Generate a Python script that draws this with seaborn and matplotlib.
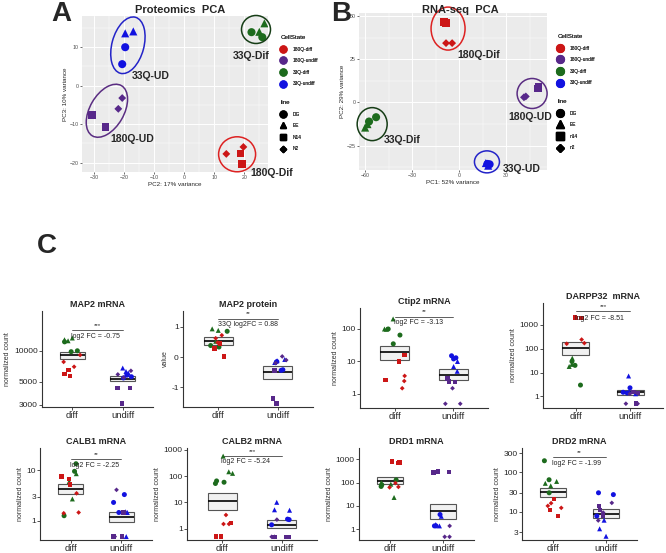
import matplotlib
matplotlib.use("Agg")
import matplotlib.pyplot as plt
import numpy as np
import pandas as pd
import seaborn as sns
from matplotlib.lines import Line2D
from matplotlib.patches import Ellipse
from matplotlib.ticker import AutoMinorLocator, NullLocator
from matplotlib.transforms import ScaledTranslation

sns.set_theme(style="white")
plt.rcParams["font.family"] = ["Liberation Sans", "DejaVu Sans"]
np.random.seed(7)  # only used by stripplot jitter

W, H = 666, 553

# ---- colours / categories --------------------------------------------------
STATES = ["180Q-diff", "180Q-undiff", "33Q-diff", "33Q-undiff"]
STATE_COLORS = ["#cc1616", "#57288a", "#1d6b1d", "#1212e0"]
PALETTE = dict(zip(STATES, STATE_COLORS))
LINE_MARKERS = ["o", "^", "s", "D"]

# ---- panel A: proteomics PCA ----------------------------------------------
pca_a_state = ["33Q-undiff"] * 4 + ["33Q-diff"] * 4 + ["180Q-undiff"] * 4 + ["180Q-diff"] * 4
pca_a_line = ["DG", "DG", "EE", "EE", "DG", "DG", "EE", "EE",
              "N14", "N14", "N2", "N2", "N14", "N14", "N2", "N2"]
pca_a_pc2 = [-19.7, -20.7, -19.7, -17.0, 22.4, 26.0, 26.7, 25.0,
             -30.7, -26.3, -20.7, -22.0, 18.7, 19.3, 19.7, 14.0]
pca_a_pc3 = [10.0, 5.6, 13.6, 14.1, 13.9, 12.6, 16.2, 14.0,
             -7.6, -10.7, -3.2, -6.0, -17.6, -20.3, -15.9, -17.7]
pca_a_lines = ["DG", "EE", "N14", "N2"]
pca_a_groups = ["33Q-Dif", "33Q-UD", "180Q-UD", "180Q-Dif"]
pca_a_group_x = [16.2, -17.4, -24.8, 21.9]
pca_a_group_y = [7.7, 2.5, -13.8, -22.6]
# ellipse: centre x, centre y, width/height (in), angle, colour
pca_a_ellipses = [(23.9, 14.6, 0.29, 0.28, 0, "#163d16"),
                  (-18.8, 10.5, 0.58, 0.32, 75, "#2323c8"),
                  (-25.8, -6.5, 0.58, 0.34, 60, "#5a2d82"),
                  (17.6, -17.8, 0.37, 0.35, 0, "#dd2222")]

# ---- panel B: RNA-seq PCA --------------------------------------------------
pca_b_state = ["33Q-undiff"] * 4 + ["33Q-diff"] * 4 + ["180Q-undiff"] * 4 + ["180Q-diff"] * 4
pca_b_line = ["DG", "DG", "EE", "EE", "DG", "DG", "EE", "EE",
              "n14", "n14", "n2", "n2", "n14", "n14", "n2", "n2"]
pca_b_pc1 = [18.0, 19.4, 17.0, 18.5, -53.0, -57.5, -60.0, -58.5,
             50.3, 50.5, 41.3, 42.5, -9.5, -8.5, -8.4, -4.5]
pca_b_pc2 = [-35.5, -35.7, -35.0, -36.5, -8.5, -11.0, -14.5, -12.5,
             8.1, 9.0, 3.0, 3.5, 46.5, 46.0, 34.3, 34.3]
pca_b_lines = ["DG", "EE", "n14", "n2"]
pca_b_groups = ["180Q-Dif", "180Q-UD", "33Q-Dif", "33Q-UD"]
pca_b_group_x = [-1.3, 31.6, -48.4, 27.7]
pca_b_group_y = [27.3, -8.1, -21.5, -38.5]
pca_b_ellipses = [(-7.1, 42.7, 0.34, 0.43, 0, "#dd2222"),
                  (46.5, 5.2, 0.30, 0.30, 0, "#5a2d82"),
                  (-55.5, -12.5, 0.30, 0.33, 0, "#163d16"),
                  (17.7, -34.3, 0.25, 0.22, 0, "#2323c8")]

# ---- panel C: marker genes -------------------------------------------------
# point order: diff = 33Q DG x3, 33Q EE x3, 180Q N14 x3, 180Q N2 x3
#              undiff = same lines for 33Q-undiff / 180Q-undiff
POINT_GROUP = ["diff"] * 12 + ["undiff"] * 12
POINT_STATE = ["33Q-diff"] * 6 + ["180Q-diff"] * 6 + ["33Q-undiff"] * 6 + ["180Q-undiff"] * 6
POINT_LINE = (["DG"] * 3 + ["EE"] * 3 + ["N14"] * 3 + ["N2"] * 3) * 2

map2_mrna = [12200, 10000, 9800, 13300, 12800, 12500, 5700, 5950, 6500, 9100, 7800, 7000,
             5800, 5600, 5450, 6800, 6300, 6100, 4370, 4350, 3070, 6400, 5900, 5500]
map2_mrna_box = [[8350, 9000, 9700], [5080, 5370, 5690]]

map2_prot = [0.85, 0.38, 0.33, 0.93, 0.88, 0.52, 0.02, 0.28, 0.45, 0.72, 0.62, 0.48,
             -0.42, -0.44, -0.15, -0.12, -0.18, -0.08, -1.37, -1.53, -0.45, 0.02, -0.2, -0.1]
map2_prot_box = [[0.41, 0.52, 0.66], [-0.72, -0.5, -0.29]]

ctip2 = [100, 65, 35, 204, 100, 98, 16, 10, 2.7, 3.6, 2.5, 1.5,
         15, 13, 12, 10, 7, 5, 2.4, 2.3, 3.0, 1.5, 0.5, 0.5]
ctip2_box = [[11.1, 19.6, 31], [2.75, 3.9, 5.7]]

darpp32 = [29, 20, 3.0, 40, 22, 18, 1900, 1900, 2000, 240, 170, 160,
           2.3, 1.5, 1.4, 7.2, 1.6, 1.3, 0.5, 1.4, 1.5, 0.5, 0.5, 1.3]
darpp32_box = [[55.6, 106, 189], [1.17, 1.47, 1.9]]

calb1 = [13.6, 9.6, 1.25, 8.6, 6.0, 2.7, 7.6, 6.7, 5.2, 3.5, 1.45, 1.4,
         3.3, 2.3, 1.45, 1.5, 1.45, 0.48, 0.48, 0.48, 1.45, 4.1, 1.45, 0.48]
calb1_box = [[3.4, 4.25, 5.4], [0.95, 1.2, 1.51]]

calb2 = [65, 58, 52, 570, 145, 126, 1.6, 0.5, 0.5, 3.3, 1.5, 1.5,
         2.3, 2.2, 1.4, 10, 5.2, 5.0, 0.49, 0.49, 0.49, 0.49, 0.49, 2.2]
calb2_box = [[5.1, 11, 22.4], [1.03, 1.35, 2.04]]

drd1 = [130, 80, 68, 100, 85, 23, 780, 700, 720, 65, 62, 95,
        4.3, 1.4, 1.4, 3.6, 1.6, 1.4, 290, 270, 280, 0.48, 0.48, 1.4]
drd1_box = [[88, 122, 181], [2.7, 6.1, 12.2]]

drd2 = [193, 64, 30, 58, 52, 45, 21, 11, 7.8, 16.4, 14, 12.5,
        30, 27, 7.8, 6.1, 3.7, 2.4, 14, 11, 8, 16.7, 6, 9.5]
drd2_box = [[24, 31, 39.3], [7.1, 8.9, 12]]

panel_titles = ["MAP2 mRNA", "MAP2 protein", "Ctip2 mRNA", "DARPP32  mRNA",
                "CALB1 mRNA", "CALB2 mRNA", "DRD1 mRNA", "DRD2 mRNA"]
panel_values = [map2_mrna, map2_prot, ctip2, darpp32, calb1, calb2, drd1, drd2]
panel_boxes = [map2_mrna_box, map2_prot_box, ctip2_box, darpp32_box,
               calb1_box, calb2_box, drd1_box, drd2_box]
panel_log = [True, False, True, True, True, True, True, True]
panel_ylim = [(2850, 24300), (-1.65, 1.52), (0.37, 443), (0.33, 8100),
              (0.41, 28), (0.37, 1160), (0.35, 2990), (1.93, 405)]
panel_yticks = [[3000, 5000, 10000], [-1, 0, 1], [1, 10, 100], [1, 10, 100, 1000],
                [1, 3, 10], [1, 10, 100, 1000], [1, 10, 100, 1000], [3, 10, 30, 100, 300]]
panel_ylabel = ["normalized count", "value"] + ["normalized count"] * 6
panel_stars = ["***", "**", "**", "***", "**", "***", None, "**"]
panel_fc = ["log2 FC = -0.75", "33Q log2FC = 0.88", "log2 FC = -3.13", "log2 FC = -8.51",
            "log2 FC = -2.25", "log2 FC = -5.24", None, "log2 FC = -1.99"]

# layout (pixels): left, right, top, bottom ; bracket height as axes fraction
panel_px = [(42, 153, 311, 407), (183, 313, 311, 407), (360, 488, 308, 408), (543, 663, 303, 408),
            (40, 152, 448, 540), (187, 317, 448, 540), (359, 474, 448, 540), (522, 637, 448, 540)]
panel_bracket = [0.80, 0.92, 0.915, 0.92, 0.88, 0.915, None, 0.90]


def px_box(left, right, top, bottom):
    return [left / W, 1 - bottom / H, (right - left) / W, (bottom - top) / H]


def draw_pca(ax, df, x, y, lines, ellipses, groups, gx, gy, xlim, ylim, xticks, yticks, xlabel, ylabel):
    ax.set_facecolor("#ebebeb")
    for s in ax.spines.values():
        s.set_visible(False)
    sns.scatterplot(data=df, x=x, y=y, hue="CellState", hue_order=STATES, palette=PALETTE,
                    style="line", style_order=lines, markers=dict(zip(lines, LINE_MARKERS)),
                    size="line", sizes=dict(zip(lines, [34, 34, 30, 16])),
                    linewidth=0, legend=False, ax=ax, zorder=3)
    for cx, cy, w, h, ang, col in ellipses:
        tr = ax.figure.dpi_scale_trans + ScaledTranslation(cx, cy, ax.transData)
        ax.add_patch(Ellipse((0, 0), w, h, angle=ang, fill=False, ec=col, lw=1.1,
                             transform=tr, clip_on=False, zorder=4))
    for name, tx, ty in zip(groups, gx, gy):
        ax.text(tx, ty, name, fontsize=7.5, fontweight="bold", ha="left", va="center",
                clip_on=False, zorder=5)
    ax.set_xlim(xlim)
    ax.set_ylim(ylim)
    ax.set_xticks(xticks)
    ax.set_yticks(yticks)
    ax.xaxis.set_minor_locator(AutoMinorLocator(2))
    ax.yaxis.set_minor_locator(AutoMinorLocator(2))
    ax.grid(True, which="major", color="white", lw=0.7)
    ax.grid(True, which="minor", color="white", lw=0.35)
    ax.set_axisbelow(True)
    ax.tick_params(which="major", labelsize=3.8, labelcolor="#4d4d4d", length=1.5, width=0.5,
                   color="#333333", pad=1, bottom=True, left=True)
    ax.tick_params(which="minor", length=0)
    ax.set_xlabel(xlabel, fontsize=4.5, labelpad=1)
    ax.set_ylabel(ylabel, fontsize=4.5, labelpad=1)


def pca_legends(lines, x0, y_state, y_line, msize):
    state_handles = [Line2D([], [], ls="", marker="o", ms=msize, mfc=c, mec=c) for c in STATE_COLORS]
    line_handles = [Line2D([], [], ls="", marker=m, ms=msize * (0.65 if m == "D" else 1.0),
                           mfc="black", mec="black") for m in LINE_MARKERS]
    for handles, labels, title, ytop in [(state_handles, STATES, "CellState", y_state),
                                         (line_handles, lines, "line", y_line)]:
        leg = fig.legend(handles, labels, title=title, loc="upper left",
                         bbox_to_anchor=(x0 / W, 1 - ytop / H), frameon=False,
                         fontsize=3.5, title_fontsize=4.5, alignment="left",
                         handletextpad=1.4, handlelength=1.0, labelspacing=1.35,
                         borderpad=0, borderaxespad=0)
        fig.add_artist(leg)


fig = plt.figure(figsize=(W / 100, H / 100), dpi=100)

# A
ax_a = fig.add_axes(px_box(82, 268, 16, 172))
df_a = pd.DataFrame({"PC2": pca_a_pc2, "PC3": pca_a_pc3, "CellState": pca_a_state, "line": pca_a_line})
draw_pca(ax_a, df_a, "PC2", "PC3", pca_a_lines, pca_a_ellipses, pca_a_groups, pca_a_group_x,
         pca_a_group_y, (-34.1, 27.9), (-22.4, 18.1), [-30, -20, -10, 0, 10, 20], [-20, -10, 0, 10],
         "PC2: 17% variance", "PC3: 10% variance")
pca_legends(pca_a_lines, 281, 35, 100, 5.0)
fig.text(180 / W, 1 - 10 / H, "Proteomics  PCA", fontsize=8, fontweight="bold", ha="center", va="center")
fig.text(61 / W, 1 - 14 / H, "A", fontsize=20, fontweight="bold", ha="center", va="center")

# B
ax_b = fig.add_axes(px_box(359, 547, 13, 170))
df_b = pd.DataFrame({"PC1": pca_b_pc1, "PC2": pca_b_pc2, "CellState": pca_b_state, "line": pca_b_line})
draw_pca(ax_b, df_b, "PC1", "PC2", pca_b_lines, pca_b_ellipses, pca_b_groups, pca_b_group_x,
         pca_b_group_y, (-63.9, 56.0), (-39.0, 51.7), [-60, -30, 0, 30], [-25, 0, 25, 50],
         "PC1: 52% variance", "PC2: 29% variance")
pca_legends(pca_b_lines, 558, 34, 99, 5.6)
fig.text(460 / W, 1 - 10 / H, "RNA-seq  PCA", fontsize=8, fontweight="bold", ha="center", va="center")
fig.text(341 / W, 1 - 14 / H, "B", fontsize=20, fontweight="bold", ha="center", va="center")

# C
fig.text(47 / W, 1 - 246 / H, "C", fontsize=20, fontweight="bold", ha="center", va="center")
for i, title in enumerate(panel_titles):
    ax = fig.add_axes(px_box(*panel_px[i]))
    df = pd.DataFrame({"group": POINT_GROUP, "value": panel_values[i],
                       "state": POINT_STATE, "line": POINT_LINE})
    if panel_log[i]:
        ax.set_yscale("log")
    box = np.array(panel_boxes[i])
    ax.bar([0, 1], box[:, 2] - box[:, 0], bottom=box[:, 0], width=0.5,
           color=(0.9, 0.9, 0.9, 0.55), edgecolor="#555555", lw=0.8, zorder=1)
    ax.hlines(box[:, 1], [-0.25, 0.75], [0.25, 1.25], color="black", lw=1.2, zorder=2)
    for ln, mk, sz in zip(["DG", "EE", "N14", "N2"], LINE_MARKERS, [3.6, 3.6, 3.2, 2.4]):
        sns.stripplot(data=df[df["line"] == ln], x="group", y="value", order=["diff", "undiff"],
                      hue="state", hue_order=STATES, palette=PALETTE, marker=mk, size=sz,
                      jitter=0.18, linewidth=0, legend=False, ax=ax, zorder=3)
    ax.set_xlim(-0.6, 1.6)
    ax.set_ylim(panel_ylim[i])
    ax.yaxis.set_minor_locator(NullLocator())
    ax.set_yticks(panel_yticks[i])
    ax.set_yticklabels([str(t) for t in panel_yticks[i]])
    ax.set_xticks([0, 1])
    ax.set_xticklabels(["diff", "undiff"])
    ax.tick_params(axis="y", labelsize=6, length=2, width=0.6, pad=1, left=True, color="#333333")
    ax.tick_params(axis="x", labelsize=6.8, length=2, width=0.6, pad=1, bottom=True, color="#333333")
    for side in ["top", "right"]:
        ax.spines[side].set_visible(False)
    for side in ["left", "bottom"]:
        ax.spines[side].set_color("#333333")
        ax.spines[side].set_linewidth(0.8)
    ax.set_xlabel("")
    ax.set_ylabel(panel_ylabel[i], fontsize=5, color="#333333", labelpad=2)
    ax.set_title(title, fontsize=6.5, fontweight="bold", pad=3)
    if panel_stars[i] is not None:
        yb = panel_bracket[i]
        tr = ax.get_xaxis_transform()
        ax.plot([0, 1], [yb, yb], transform=tr, color="#444444", lw=0.6, clip_on=False)
        ax.text(0.5, yb + 0.05, panel_stars[i], transform=tr, fontsize=4.5, ha="center", va="center")
        fc_x, fc_ha = (0.5, "center") if i == 1 else (-0.02, "left")
        ax.text(fc_x, yb - 0.065, panel_fc[i], transform=tr, fontsize=5, ha=fc_ha, va="center",
                clip_on=False, zorder=5)

fig.savefig("out.png", dpi=100)
